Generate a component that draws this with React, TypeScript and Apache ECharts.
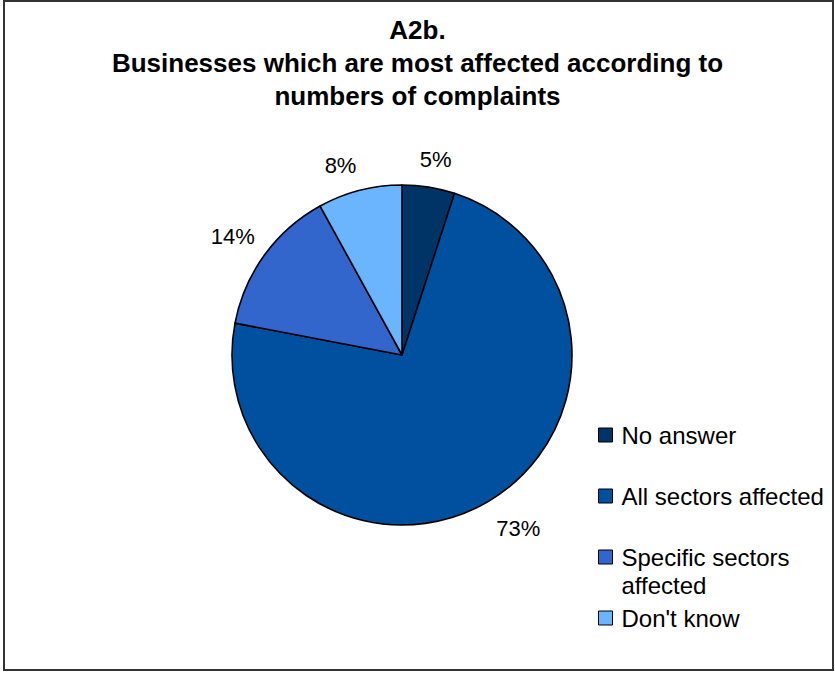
import React, { useEffect, useRef } from 'react';
import * as echarts from 'echarts';

const titleLines = ['A2b.', 'Businesses which are most affected according to', 'numbers of complaints'];
const categories = ['No answer', 'All sectors affected', 'Specific sectors affected', "Don't know"];
const values = [5, 73, 14, 8];
const colors = ['#003366', '#0050A0', '#3366CC', '#6BB5FF'];
const legendTexts = ['No answer', 'All sectors affected', ' \nSpecific sectors\naffected', "Don't know"];
const legendTops = [421, 482, 515, 604];
// small per-label nudges (px) applied on top of the radial label placement
const labelNudgeX = [2, 13, -5, -11];
const labelNudgeY = [5, -1, 1, 7];

const FONT = '"Liberation Sans", Arial, Helvetica, sans-serif';

export default function App() {
  const ref = useRef<HTMLDivElement>(null);
  useEffect(() => {
    if (!ref.current) return;
    const chart = echarts.init(ref.current, undefined, { renderer: 'svg' });
    const legends = categories.map((name, i) => ({
      data: [name],
      orient: 'vertical',
      left: 598,
      top: legendTops[i],
      padding: 0,
      itemWidth: 14,
      itemHeight: 14,
      icon: 'rect',
      itemStyle: { borderColor: '#000', borderWidth: 1 },
      formatter: () => legendTexts[i],
      textStyle: { fontFamily: FONT, fontSize: 24, lineHeight: 28, color: '#000', padding: [0, 0, 0, 4] },
      selectedMode: false,
    }));
    chart.setOption({
      animation: false,
      backgroundColor: '#fff',
      title: {
        text: titleLines.join('\n'),
        left: 'center',
        top: 13,
        padding: 0,
        textStyle: { fontFamily: FONT, fontSize: 26, fontWeight: 'bold', lineHeight: 33, color: '#000' },
      },
      legend: legends,
      graphic: [
        {
          type: 'rect',
          shape: { x: 4, y: 1, width: 829, height: 669 },
          style: { fill: 'none', stroke: '#333', lineWidth: 2 },
          silent: true,
        },
      ],
      series: [
        {
          type: 'pie',
          center: [402, 355],
          radius: 170,
          startAngle: 90,
          clockwise: true,
          avoidLabelOverlap: false,
          data: categories.map((name, i) => ({ name, value: values[i], itemStyle: { color: colors[i] } })),
          itemStyle: { borderColor: '#000', borderWidth: 1.6 },
          label: {
            show: true,
            position: 'outside',
            formatter: (p: any) => `${p.value}%`,
            fontFamily: FONT,
            fontSize: 22,
            color: '#000',
          },
          labelLine: { show: true, length: 33, length2: 0, lineStyle: { opacity: 0 } },
          labelLayout: (params: any) => {
            const pts = params.labelLinePoints;
            if (!pts || !pts[1]) return {};
            const i = params.dataIndex;
            return {
              x: pts[1][0] + (labelNudgeX[i] || 0),
              y: pts[1][1] + (labelNudgeY[i] || 0),
              align: 'center',
              verticalAlign: 'middle',
            };
          },
          emphasis: { disabled: true },
        },
      ],
    });
    return () => chart.dispose();
  }, []);
  return (
    <div
      ref={ref}
      style={{ position: 'absolute', left: 0, top: 0, width: 835, height: 673, background: '#fff' }}
    />
  );
}
